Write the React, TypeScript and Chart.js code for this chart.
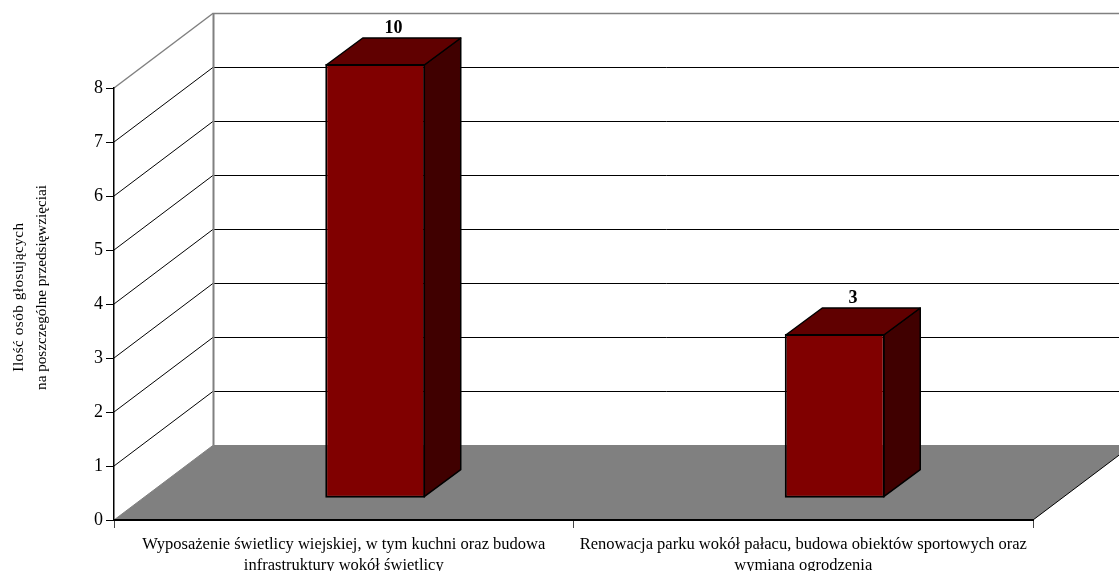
import React, { useEffect, useRef } from "react";
import { Chart, registerables } from "chart.js";

Chart.register(...registerables);

const categories: string[][] = [
  ["Wyposażenie świetlicy wiejskiej, w tym kuchni oraz budowa", "infrastruktury wokół świetlicy"],
  ["Renowacja parku wokół pałacu, budowa obiektów sportowych oraz", "wymiana ogrodzenia"],
];
const votes: number[] = [10, 3];
const yTicksMax = 8;
const axisTitleLines: string[] = ["Ilość osób głosujących", "na poszczególne przedsięwzięciai"];

const FONT = '"Liberation Serif", "Times New Roman", serif';
const WALL_DX = 99.5;
const WALL_DY = 75;
const BAR_SHIFT_X = 31.5;
const BAR_SHIFT_TOP = 24;
const BAR_SHIFT_BASE = 22.3;
const BAR_DX = 36.5;
const BAR_DY = 27;
const BAR_BORDER = 2;

const poly = (ctx: CanvasRenderingContext2D, pts: number[][], fill: string | null, stroke: string | null, lw = 1) => {
  ctx.beginPath();
  pts.forEach(([x, y], i) => (i ? ctx.lineTo(x, y) : ctx.moveTo(x, y)));
  ctx.closePath();
  if (fill) {
    ctx.fillStyle = fill;
    ctx.fill();
  }
  if (stroke) {
    ctx.strokeStyle = stroke;
    ctx.lineWidth = lw;
    ctx.lineJoin = "round";
    ctx.stroke();
  }
};

const line = (ctx: CanvasRenderingContext2D, x1: number, y1: number, x2: number, y2: number, color: string, lw: number) => {
  ctx.beginPath();
  ctx.moveTo(x1, y1);
  ctx.lineTo(x2, y2);
  ctx.strokeStyle = color;
  ctx.lineWidth = lw;
  ctx.stroke();
};

const box3d = {
  id: "box3d",
  afterDatasetsUpdate(chart: any) {
    const y = chart.scales.y;
    const meta = chart.getDatasetMeta(0);
    meta.data.forEach((el: any, i: number) => {
      const v = Math.min(votes[i], y.max);
      el.x += BAR_SHIFT_X;
      el.y = y.getPixelForValue(v) - BAR_SHIFT_TOP;
      el.base = y.getPixelForValue(0) - BAR_SHIFT_BASE;
    });
  },
  beforeDatasetsDraw(chart: any) {
    const { ctx, chartArea: a, scales } = chart;
    const y = scales.y;
    const meta = chart.getDatasetMeta(0);
    const floorY = y.getPixelForValue(0);
    const topY = y.getPixelForValue(y.max);
    ctx.save();
    // floor
    poly(
      ctx,
      [
        [a.left, floorY],
        [a.left + WALL_DX, floorY - WALL_DY],
        [a.right + WALL_DX, floorY - WALL_DY],
        [a.right, floorY],
      ],
      "#808080",
      null,
    );
    line(ctx, a.right, floorY, a.right + WALL_DX, floorY - WALL_DY, "#000000", 1);
    // grid on the side and back walls
    y.ticks.forEach((t: any) => {
      if (t.value === 0) return;
      const py = y.getPixelForValue(t.value);
      const top = t.value === y.max;
      const color = top ? "#808080" : "#000000";
      const lw = top ? 1.5 : 1;
      line(ctx, a.left, py, a.left + WALL_DX, py - WALL_DY, color, lw);
      line(ctx, a.left + WALL_DX, py - WALL_DY + 0.5, a.right + WALL_DX, py - WALL_DY + 0.5, color, lw);
    });
    line(ctx, a.left + WALL_DX, topY - WALL_DY, a.left + WALL_DX, floorY - WALL_DY, "#808080", 2);
    line(ctx, a.left, floorY, a.left + WALL_DX, floorY - WALL_DY, "#808080", 1);
    // side and top of each bar
    const inset = BAR_BORDER / 2;
    meta.data.forEach((el: any) => {
      const l = el.x - el.width / 2 + inset;
      const r = el.x + el.width / 2 - inset;
      const t = el.y + inset;
      const b = el.base - inset;
      poly(
        ctx,
        [
          [r, t],
          [r + BAR_DX, t - BAR_DY],
          [r + BAR_DX, b - BAR_DY],
          [r, b],
        ],
        "#400000",
        "#000000",
        1.5,
      );
      poly(
        ctx,
        [
          [l, t],
          [l + BAR_DX, t - BAR_DY],
          [r + BAR_DX, t - BAR_DY],
          [r, t],
        ],
        "#600000",
        "#000000",
        1.5,
      );
    });
    ctx.restore();
  },
  afterDatasetsDraw(chart: any) {
    const { ctx } = chart;
    const meta = chart.getDatasetMeta(0);
    ctx.save();
    ctx.fillStyle = "#000000";
    ctx.textAlign = "center";
    ctx.textBaseline = "alphabetic";
    ctx.font = `bold 18px ${FONT}`;
    meta.data.forEach((el: any, i: number) => {
      ctx.fillText(String(votes[i]), el.x + BAR_DX / 2, el.y - BAR_DY - 4);
    });
    ctx.font = `15.2px ${FONT}`;
    ctx.rotate(-Math.PI / 2);
    (ctx as any).letterSpacing = "0.5px";
    ctx.fillText(axisTitleLines[0], -297, 23);
    (ctx as any).letterSpacing = "0px";
    ctx.fillText(axisTitleLines[1], -287.5, 45.5);
    ctx.restore();
  },
};

export default function App() {
  const ref = useRef<HTMLCanvasElement>(null);
  useEffect(() => {
    const chart = new Chart(ref.current as HTMLCanvasElement, {
      type: "bar",
      data: {
        labels: categories as any,
        datasets: [
          {
            data: votes,
            backgroundColor: "#800000",
            borderColor: "#000000",
            borderWidth: BAR_BORDER,
            borderSkipped: false,
            categoryPercentage: 1,
            barPercentage: 0.2176,
            clip: false as any,
          },
        ],
      },
      options: {
        responsive: false,
        animation: false,
        devicePixelRatio: 1,
        layout: { padding: { left: 0, right: 86, top: 88, bottom: 0 } },
        plugins: { legend: { display: false }, tooltip: { enabled: false } },
        scales: {
          x: {
            afterFit: (s: any) => {
              s.height = 51;
            },
            border: { color: "#000000", width: 2, z: 1 },
            grid: { drawOnChartArea: false, tickLength: 8, color: "#444444", offset: true, z: 1 },
            ticks: {
              color: "#000000",
              font: { family: FONT, size: 16.5, lineHeight: "21px" } as any,
              maxRotation: 0,
              autoSkip: false,
              padding: 6,
            },
          },
          y: {
            min: 0,
            max: yTicksMax,
            afterFit: (s: any) => {
              s.width = 114;
            },
            border: { color: "#000000", width: 1.5, z: 1 },
            grid: { drawOnChartArea: false, tickLength: 8, color: "#000000", z: 1 },
            ticks: {
              stepSize: 1,
              color: "#000000",
              font: { family: FONT, size: 18 },
              padding: 3,
            },
          },
        },
      },
      plugins: [box3d],
    });
    return () => chart.destroy();
  }, []);
  return (
    <canvas
      ref={ref}
      width={1119}
      height={571}
      style={{ position: "fixed", left: 0, top: 0, width: 1119, height: 571, display: "block", background: "#ffffff" }}
    />
  );
}
